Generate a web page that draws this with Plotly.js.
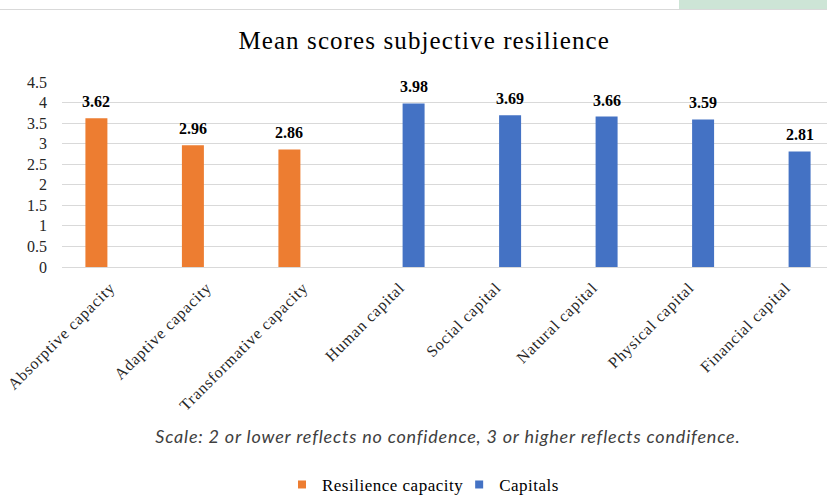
<!DOCTYPE html>
<html>
<head>
<meta charset="utf-8">
<script src="https://cdn.plot.ly/plotly-3.0.1.min.js"></script>
<style>
  html, body { margin: 0; padding: 0; background: #fff; overflow: hidden; }
  #wrap { position: relative; width: 827px; height: 504px; overflow: hidden; }
  #chart { position: absolute; left: 0; top: 0; width: 835px; height: 504px; }
  #topline { position: absolute; left: 0; top: 9px; width: 827px; height: 1px; background: #d9d9d9; z-index: 2; }
  #topbox { position: absolute; left: 679px; top: 0; width: 148px; height: 9px; background: #cde5d6; z-index: 2; }
  #chart .gtitle { letter-spacing: 1.1px; }
  #chart g.xtick text { letter-spacing: 0.8px; }
  #chart text.legendtext { letter-spacing: 0.5px; }
  #chart g.annotation[data-index="8"] text { letter-spacing: 0.8px; }
</style>
</head>
<body>
<div id="wrap">
  <div id="chart"></div>
  <div id="topbox"></div>
  <div id="topline"></div>
</div>
<script>
const categories = ["Absorptive capacity", "Adaptive capacity", "Transformative capacity",
  "Human capital", "Social capital", "Natural capital", "Physical capital", "Financial capital"];
const resilienceValues = [3.62, 2.96, 2.86, null, null, null, null, null];
const capitalsValues = [null, null, null, 3.98, 3.69, 3.66, 3.59, 2.81];
const yTickValues = [0, 0.5, 1, 1.5, 2, 2.5, 3, 3.5, 4, 4.5];
const yTickLabels = ["0", "0.5", "1", "1.5", "2", "2.5", "3", "3.5", "4", "4.5"];
const seriesNames = ["Resilience capacity", "Capitals"];
const titleText = "Mean scores subjective resilience";
const noteText = "Scale: 2 or lower reflects no confidence, 3 or higher reflects condifence.";

const serif = "Liberation Serif";
const orange = "#ED7D31";
const blue = "#4472C4";

const traces = [
  { type: "bar", name: seriesNames[0], x: categories, y: resilienceValues,
    marker: { color: orange }, hoverinfo: "skip", showlegend: false },
  { type: "bar", name: seriesNames[1], x: categories, y: capitalsValues,
    marker: { color: blue }, hoverinfo: "skip", showlegend: false },
  { type: "scatter", mode: "markers", name: seriesNames[0], x: [null], y: [null],
    marker: { symbol: "square", size: 8, color: orange }, hoverinfo: "skip" },
  { type: "scatter", mode: "markers", name: seriesNames[1], x: [null], y: [null],
    marker: { symbol: "square", size: 8, color: blue }, hoverinfo: "skip" }
];

const annotations = [];
[resilienceValues, capitalsValues].forEach(function (vals, s) {
  vals.forEach(function (v, i) {
    if (v === null) return;
    annotations.push({
      x: categories[i], y: v, xref: "x", yref: "y",
      xshift: s === 0 ? -13.85 : 13.85,
      yanchor: "bottom", yshift: 6, showarrow: false,
      text: "<b>" + v.toFixed(2) + "</b>",
      font: { family: serif, size: 16, color: "#000" }
    });
  });
});
annotations.push({
  xref: "paper", yref: "paper", x: 0.4994, y: -0.914, xanchor: "center", yanchor: "middle",
  showarrow: false, text: "<i>" + noteText + "</i>",
  font: { family: "Lato", size: 18, color: "#404040" }
});

const layout = {
  width: 835, height: 504,
  margin: { l: 62, r: 1, t: 82, b: 237 },
  paper_bgcolor: "#fff", plot_bgcolor: "#fff",
  font: { family: serif },
  title: { text: titleText, x: 0.508, xanchor: "center", y: 0.92, yanchor: "middle",
    font: { family: serif, size: 25, color: "#000" } },
  barmode: "group", bargap: 0.426, bargroupgap: 0.206,
  xaxis: { type: "category", tickangle: -45, showgrid: false, showline: true,
    linecolor: "#d9d9d9", linewidth: 1, ticks: "outside", ticklen: 4, tickcolor: "rgba(0,0,0,0)",
    tickfont: { family: serif, size: 16, color: "#262626" } },
  yaxis: { range: [0, 4.5], tickvals: yTickValues, ticktext: yTickLabels,
    showgrid: true, gridcolor: "#d9d9d9", gridwidth: 1, zeroline: false,
    showline: false, ticks: "", ticklabelstandoff: 14,
    tickfont: { family: serif, size: 16, color: "#262626" } },
  legend: { orientation: "h", x: 0.465, xanchor: "center", y: -1.178, yanchor: "middle",
    font: { family: serif, size: 17, color: "#000" }, itemwidth: 30, tracegroupgap: 0 },
  annotations: annotations,
  showlegend: true
};

Plotly.newPlot("chart", traces, layout, { displayModeBar: false, staticPlot: true });
</script>
</body>
</html>
